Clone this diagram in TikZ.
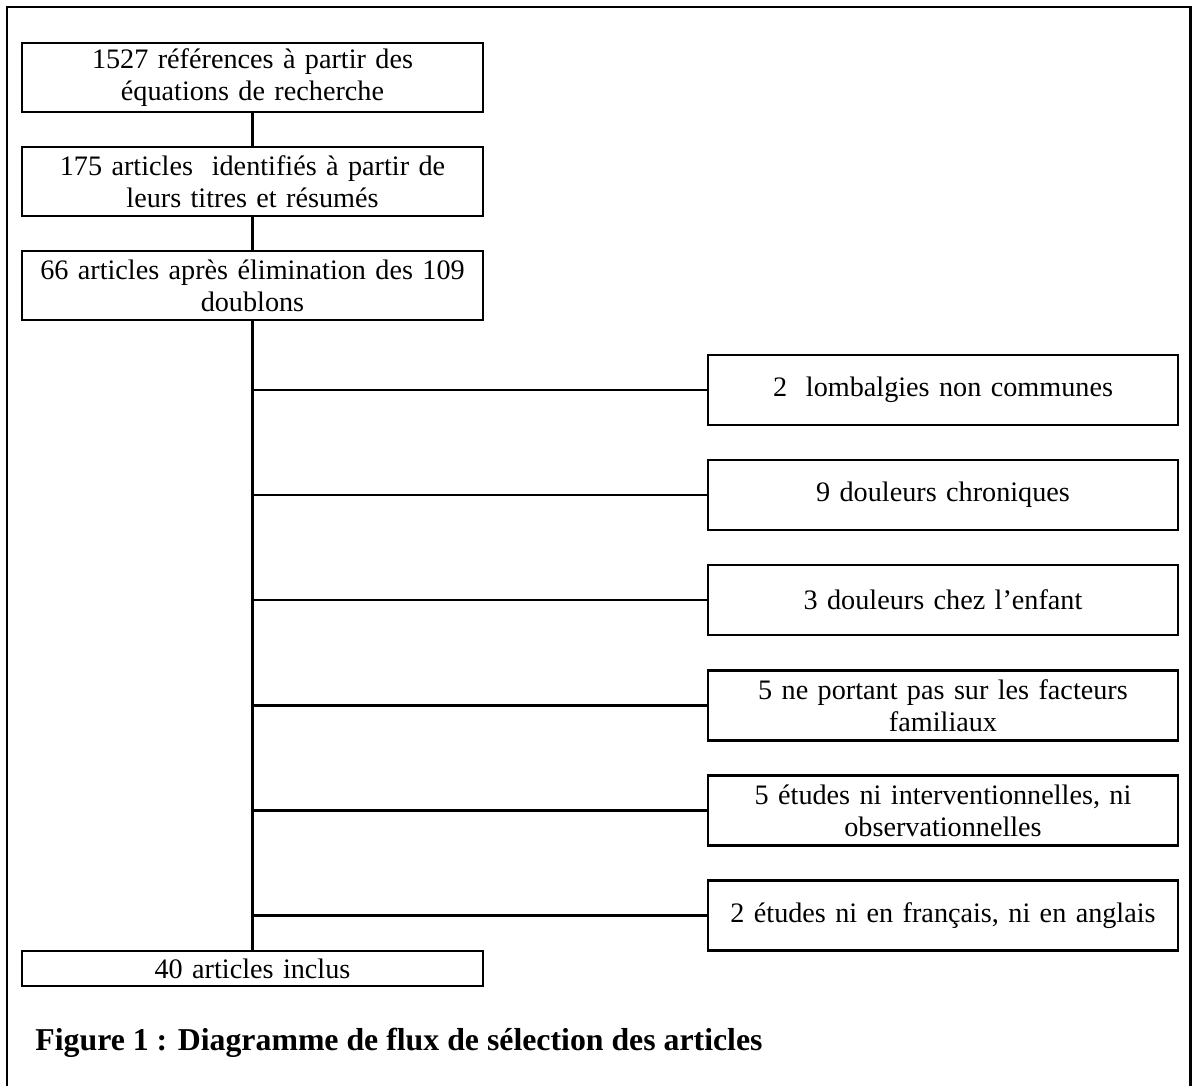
\documentclass[tikz,border=0pt]{standalone}
\usepackage{fontspec}
\setmainfont{Liberation Serif}
\usetikzlibrary{positioning}
\tikzset{
    stepbox/.style={draw, line width=1.3pt, minimum width=230.5pt, text width=226pt, align=center, inner sep=0pt, font=\fontsize{14.1}{16}\selectfont},
    leftbox/.style={stepbox, minimum height=34.5pt},
    exclbox/.style={stepbox, minimum width=235pt, text width=231pt, minimum height=35pt},
    link/.style={line width=1.3pt}
}
\begin{document}
\begin{tikzpicture}[x=0.5pt, y=-0.5pt]
    \useasboundingbox (0,0) rectangle (1192,1086);
    % open frame round the figure
    \draw[line width=1.2pt] (7,1086) -- (7,7) -- (1190.5,7) -- (1190.5,1086);

    \node[leftbox] (refs) at (252.5,77.5) {1527 références à partir des\\équations de recherche};
    \node[leftbox] (titles) at (252.5,181.5) {175 articles\ \ identifiés à partir de\\leurs titres et résumés};
    \node[leftbox] (dedup) at (252.5,285.5) {66 articles après élimination des 109\\doublons};
    \node[stepbox, minimum height=17.5pt] (incl) at (252.5,968.5) {40 articles inclus};

    \node[exclbox] (lomb) at (943,390) {2\ \ lombalgies non communes};
    \node[exclbox] (chron) at (943,495) {9 douleurs chroniques};
    \node[exclbox] (child) at (943,600) {3 douleurs chez l’enfant};
    \node[exclbox] (famil) at (943,705.5) {5 ne portant pas sur les facteurs\\familiaux};
    \node[exclbox] (design) at (943,810.5) {5 études ni interventionnelles, ni\\observationnelles};
    \node[exclbox] (lang) at (943,915.5) {2 études ni en français, ni en anglais};

    \draw[link] (refs) -- (titles);
    \draw[link] (titles) -- (dedup);
    \draw[link] (dedup) -- (incl);
    \foreach \ex in {lomb,chron,child,famil,design,lang}
        \draw[link] (dedup.south |- \ex.west) -- (\ex.west);

    \node[anchor=base west, inner sep=0pt, font=\fontsize{15.9}{18}\selectfont\bfseries] (caption) at (35,1050) {Figure 1 : Diagramme de flux de sélection des articles};
\end{tikzpicture}
\end{document}
